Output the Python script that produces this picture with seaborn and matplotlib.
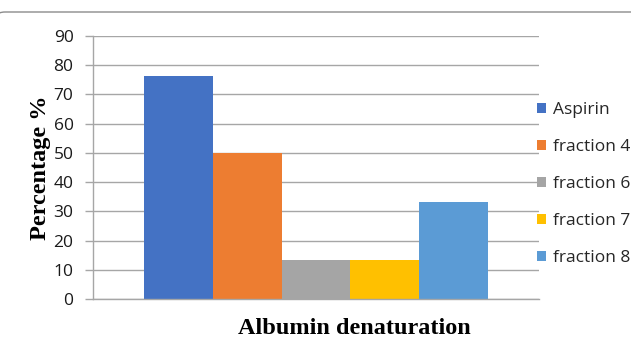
import matplotlib
matplotlib.use("Agg")
import matplotlib.pyplot as plt
from matplotlib.patches import FancyBboxPatch
import seaborn as sns
import pandas as pd

# Albumin denaturation inhibition (%) per sample
group = "Albumin denaturation"
series = ["Aspirin", "fraction 4", "fraction 6", "fraction 7", "fraction 8"]
values = [76.4, 50.0, 13.3, 13.3, 33.3]
colors = ["#4472C4", "#ED7D31", "#A5A5A5", "#FFC000", "#5B9BD5"]
yticks = [0, 10, 20, 30, 40, 50, 60, 70, 80, 90]

df = pd.DataFrame({"group": [group] * len(series), "sample": series, "value": values})

sns.set_theme(style="white")
plt.rcParams["font.family"] = ["Open Sans", "DejaVu Sans"]

fig = plt.figure(figsize=(6.31, 3.40), dpi=100)
ax = fig.add_axes([93 / 631, 1 - 299 / 340, 446 / 631, 263 / 340])

sns.barplot(data=df, x="group", y="value", hue="sample", palette=colors,
            width=0.771, gap=0, saturation=1, linewidth=0, ax=ax, legend=True)

ax.set_xlim(-0.5, 0.5)
ax.set_ylim(0, 90)
ax.set_yticks(yticks)
ax.set_yticklabels([str(t) for t in yticks], fontsize=12.5, color="#1A1A1A")
ax.set_xticks([])
ax.yaxis.grid(True, color="#A6A6A6", linewidth=1.0)
ax.set_axisbelow(True)

for s in ["top", "right"]:
    ax.spines[s].set_visible(False)
ax.spines["left"].set_color("#A6A6A6")
ax.spines["bottom"].set_color("#A6A6A6")
ax.spines["left"].set_linewidth(1.0)
ax.spines["bottom"].set_linewidth(1.0)
ax.tick_params(axis="y", which="major", direction="out", length=6,
               width=1.0, color="#A6A6A6", pad=8, left=True)

ax.set_xlabel("Albumin denaturation", family="Liberation Serif",
              fontweight="bold", fontsize=17.5, color="black")
ax.xaxis.set_label_coords(0.585, -0.132)
ax.xaxis.label.set_verticalalignment("baseline")
ax.set_ylabel("Percentage %", family="Liberation Serif",
              fontweight="bold", fontsize=17.5, color="black", labelpad=2)

handles, labels = ax.get_legend_handles_labels()
ax.legend(handles, labels, loc="upper left", bbox_to_anchor=(0.979, 0.775),
          frameon=False, fontsize=12.5, handlelength=0.55, handleheight=0.55,
          handletextpad=0.4, labelspacing=1.21, borderaxespad=0)

# Chart area outline (only the top edge and its corner fall on the canvas)
border = FancyBboxPatch((-2.5 / 631, -0.5), 1.05, 1 - 12 / 340 + 0.5,
                        boxstyle="round,pad=0,rounding_size=0.012",
                        transform=fig.transFigure, fill=False,
                        edgecolor="#8C8C8C", linewidth=1.0, clip_on=False)
fig.patches.append(border)

fig.savefig("out.png", dpi=100)
